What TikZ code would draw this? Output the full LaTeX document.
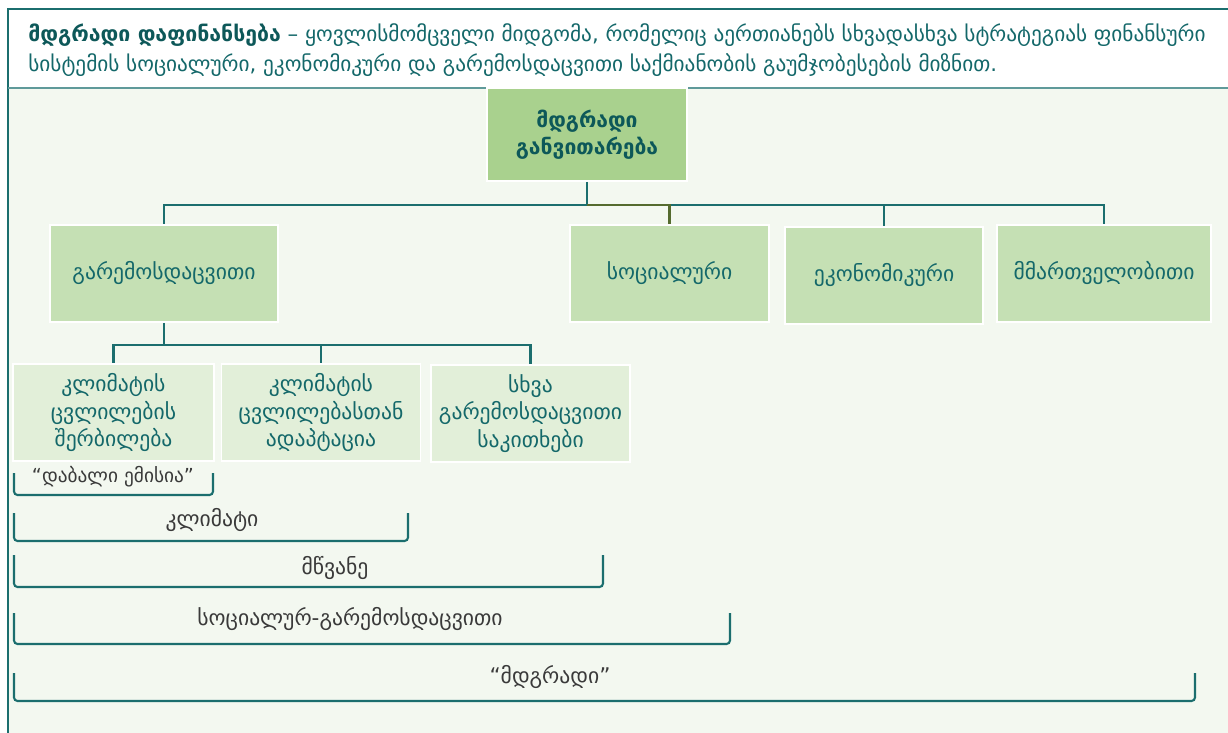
\documentclass[tikz,border=0pt]{standalone}
\usepackage{fontspec}
\setmainfont{DejaVu Sans}
\usetikzlibrary{positioning}
\definecolor{tealline}{HTML}{1B6E6E}
\definecolor{tealtext}{HTML}{14686A}
\definecolor{tealdark}{HTML}{0D5859}
\definecolor{olive}{HTML}{556B2F}
\definecolor{bodybg}{HTML}{F3F8F0}
\definecolor{rootgreen}{HTML}{A9D18E}
\definecolor{midgreen}{HTML}{C5E0B4}
\definecolor{lightgreen}{HTML}{E2EFD9}
\definecolor{labelgray}{HTML}{3A3A3A}
\tikzset{
  box/.style={draw=white, line width=1pt, text=tealtext, align=center, inner sep=0pt,
    font=\fontsize{12.3}{15.5}\selectfont},
  rootbox/.style={box, fill=rootgreen, text=tealdark, font=\bfseries\fontsize{12}{15.5}\selectfont},
  topicbox/.style={box, fill=midgreen, minimum height=1.94cm},
  subbox/.style={box, fill=lightgreen, minimum height=1.94cm},
  link/.style={draw=tealline, line width=1.3pt},
  brace/.style={draw=tealline, line width=1.2pt, rounded corners=2pt},
  bracelabel/.style={text=labelgray, font=\fontsize{12.3}{14}\selectfont, inner sep=1pt}
}
\begin{document}
\begin{tikzpicture}[x=0.02cm,y=-0.02cm]
    \useasboundingbox (0,0) rectangle (1228,733);
    % Frame
    \fill[bodybg] (8,88) rectangle (1228,733);
    \fill[white] (8,9) rectangle (1228,88);
    \draw[tealline, line width=0.8pt] (1228,9) -- (8,9) -- (8,733);
    \draw[tealline!70, line width=0.8pt] (8,88) -- (1228,88);
    % Header text
    \node (header) [anchor=west, align=left, text=tealtext, inner sep=0pt,
      font=\fontsize{12.1}{17}\selectfont] at (28,50)
      {{\bfseries\color{tealdark}მდგრადი დაფინანსება} – ყოვლისმომცველი მიდგომა, რომელიც აერთიანებს სხვადასხვა სტრატეგიას ფინანსური\\
       სისტემის სოციალური, ეკონომიკური და გარემოსდაცვითი საქმიანობის გაუმჯობესების მიზნით.};
    % Boxes
    \node (root) [rootbox, minimum width=4cm, minimum height=1.86cm] at (587,134.5) {მდგრადი\\განვითარება};
    \node (env) [topicbox, minimum width=4.56cm] at (164,273.5) {გარემოსდაცვითი};
    \node (social) [topicbox, minimum width=3.98cm] at (669.5,273.5) {სოციალური};
    \node (econ) [topicbox, minimum width=3.96cm] at (884,275.5) {ეკონომიკური};
    \node (gov) [topicbox, minimum width=4.28cm] at (1104,273.5) {მმართველობითი};
    \node (mitig) [subbox, minimum width=4.02cm] at (113.5,412.5) {კლიმატის\\ცვლილების\\შერბილება};
    \node (adapt) [subbox, minimum width=3.98cm] at (321,412.5) {კლიმატის\\ცვლილებასთან\\ადაპტაცია};
    \node (other) [subbox, minimum width=3.98cm] at (530.5,413.5) {სხვა\\გარემოსდაცვითი\\საკითხები};
    % Connectors
    \coordinate (bus) at (587,205);
    \coordinate (envbus) at (164,345);
    \draw[link] (root.south) -- (bus);
    \draw[link] (bus) -| (env.north);
    \draw[link] (bus) -| (econ.north);
    \draw[link] (bus) -| (gov.north);
    \draw[link, draw=olive] (bus) -| (social.north);
    \draw[link] (env.south) -- (envbus);
    \draw[link] (envbus) -| (mitig.north);
    \draw[link] (envbus) -| (adapt.north);
    \draw[link] (envbus) -| (other.north);
    % Brackets
    \draw[brace] (14,473) -- (14,495) -- (213,495) -- (213,473);
    \node (lowem) [bracelabel, font=\fontsize{11}{13}\selectfont] at (113,477) {“დაბალი ემისია”};
    \draw[brace] (14,513) -- (14,541) -- (408,541) -- (408,513);
    \node (climate) [bracelabel] at (212,520) {კლიმატი};
    \draw[brace] (14,555) -- (14,587) -- (603,587) -- (603,555);
    \node (green) [bracelabel] at (335,568) {მწვანე};
    \draw[brace] (14,613) -- (14,644) -- (730,644) -- (730,613);
    \node (socenv) [bracelabel] at (350,619) {სოციალურ-გარემოსდაცვითი};
    \draw[brace] (14,673) -- (14,701) -- (1195,701) -- (1195,673);
    \node (sust) [bracelabel] at (550,677) {“მდგრადი”};
\end{tikzpicture}
\end{document}
